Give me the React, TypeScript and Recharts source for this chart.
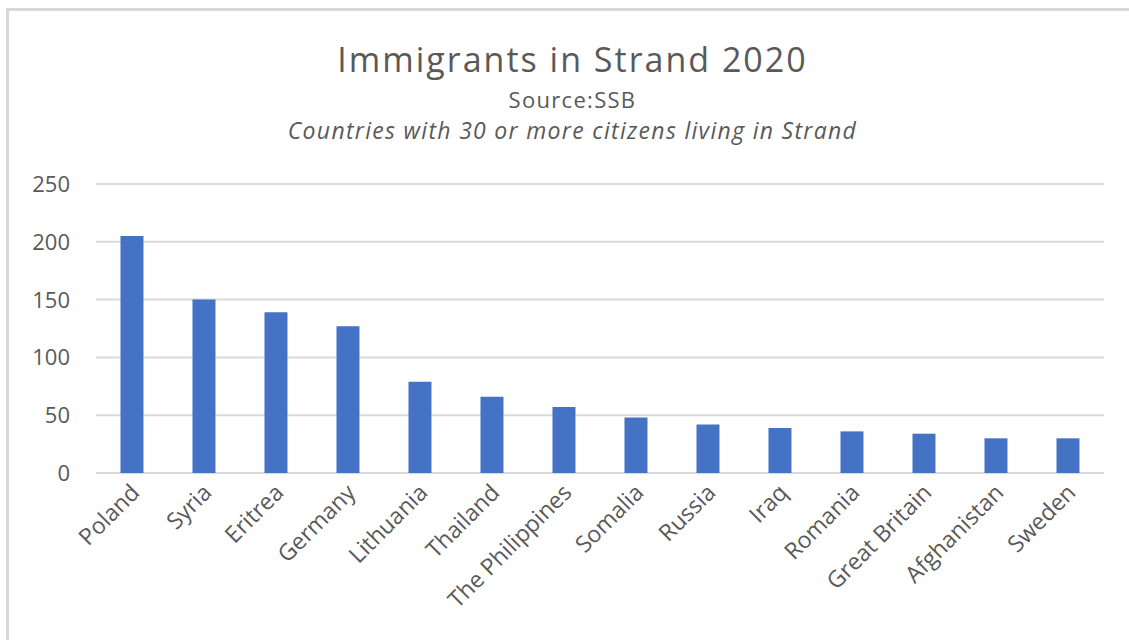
import { Bar, BarChart, CartesianGrid, XAxis, YAxis } from 'recharts'

const countries = [
  'Poland',
  'Syria',
  'Eritrea',
  'Germany',
  'Lithuania',
  'Thailand',
  'The Philippines',
  'Somalia',
  'Russia',
  'Iraq',
  'Romania',
  'Great Britain',
  'Afghanistan',
  'Sweden',
]
const immigrants = [205, 150, 139, 127, 79, 66, 57, 48, 42, 39, 36, 34, 30, 30]
const yTicks = [0, 50, 100, 150, 200, 250]

const data = countries.map((country, i) => ({ country, count: immigrants[i] }))

const TEXT = '#595959'
const FONT = '"Open Sans", sans-serif'

function YTick({ x, y, payload }: { x?: number; y?: number; payload?: { value: number } }) {
  return (
    <text
      x={(x ?? 0) - 18}
      y={y}
      dy={8}
      textAnchor="end"
      fill={TEXT}
      fontSize={22}
      fontFamily={FONT}
    >
      {payload?.value}
    </text>
  )
}

function XTick({ x, y, payload }: { x?: number; y?: number; payload?: { value: string } }) {
  const tx = (x ?? 0) + 9
  const ty = (y ?? 0) + 13
  return (
    <text
      x={tx}
      y={ty}
      textAnchor="end"
      fill={TEXT}
      fontSize={23}
      fontFamily={FONT}
      transform={`rotate(-45 ${tx} ${ty})`}
    >
      {payload?.value}
    </text>
  )
}

export default function App() {
  return (
    <div
      style={{
        position: 'absolute',
        left: 0,
        top: 0,
        width: 1129,
        height: 640,
        background: '#fff',
        overflow: 'hidden',
      }}
    >
      <div
        style={{
          position: 'absolute',
          left: 6,
          top: 8,
          width: 1140,
          height: 660,
          borderLeft: '3px solid #d9d9d9',
          borderTop: '3px solid #d9d9d9',
        }}
      />
      <div
        style={{
          position: 'absolute',
          left: 0,
          width: 1145,
          top: 36,
          textAlign: 'center',
          fontFamily: FONT,
          color: TEXT,
        }}
      >
        <div style={{ fontSize: 34, lineHeight: '46px', letterSpacing: 2 }}>Immigrants in Strand 2020</div>
        <div style={{ fontSize: 22, lineHeight: '30px', marginTop: 2, letterSpacing: 1.3 }}>Source:SSB</div>
        <div style={{ fontSize: 23, lineHeight: '32px', fontStyle: 'italic', letterSpacing: 1.3 }}>
          Countries with 30 or more citizens living in Strand
        </div>
      </div>
      <div style={{ position: 'absolute', left: 0, top: 0 }}>
        <BarChart
          width={1129}
          height={640}
          data={data}
          margin={{ top: 184, right: 25, bottom: 0, left: 0 }}
          barCategoryGap="34%"
        >
          <CartesianGrid stroke="#d9d9d9" strokeWidth={2} vertical={false} />
          <XAxis
            dataKey="country"
            axisLine={false}
            tickLine={false}
            interval={0}
            tick={<XTick />}
            height={167}
          />
          <YAxis
            domain={[0, 250]}
            ticks={yTicks}
            axisLine={false}
            tickLine={false}
            width={96}
            tick={<YTick />}
          />
          <Bar dataKey="count" fill="#4472C4" isAnimationActive={false} />
        </BarChart>
      </div>
    </div>
  )
}
